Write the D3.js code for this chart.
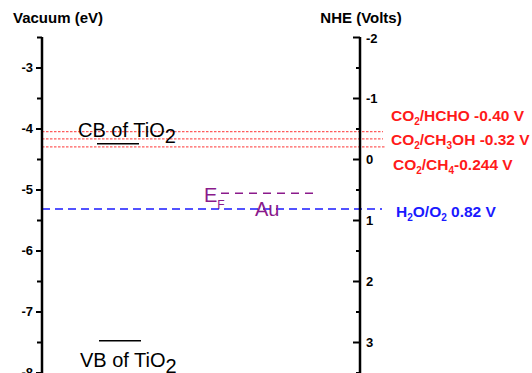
<!DOCTYPE html>
<html>
<head>
<meta charset="utf-8">
<script src="https://cdn.jsdelivr.net/npm/d3@7"></script>
<style>
  body { margin: 0; background: #fff; }
  svg { font-family: "Liberation Sans", Arial, sans-serif; }
</style>
</head>
<body>
<svg id="chart"></svg>
<script>
// vacuum scale ticks (eV) and NHE ticks (V)
let vacTicks = [-3, -4, -5, -6, -7, -8]
let nheTicks = [-2, -1, 0, 1, 2, 3]

// band levels vs vacuum (eV)
let bandNames = ["CB", "VB"]
let bandValues = [-4.25, -7.48]
let fermiAu = -5.06

// redox potentials vs NHE (V), line positions as drawn in the figure
let redoxNames = ["CO2/HCHO", "CO2/CH3OH", "CO2/CH4", "H2O/O2"]
let redoxValues = [-0.45, -0.33, -0.20, 0.82]
let redoxLabels = [
  [["CO", 0], ["2", 1], ["/HCHO -0.40 V", 0]],
  [["CO", 0], ["2", 1], ["/CH", 0], ["3", 1], ["OH -0.32 V", 0]],
  [["CO", 0], ["2", 1], ["/CH", 0], ["4", 1], ["-0.244 V", 0]],
  [["H", 0], ["2", 1], ["O/O", 0], ["2", 1], [" 0.82 V", 0]]
]

function getConfig() {
  let width = 532
  let height = 373
  let leftX = 42
  let rightX = 360
  let top = 37
  let bottom = 372.5
  let container = d3.select("#chart")
    .attr("width", width)
    .attr("height", height)
  return { width, height, leftX, rightX, top, bottom, container }
}

function getScales(config) {
  let { top, bottom } = config
  let yVac = d3.scaleLinear().domain([-2.5, -8]).range([top, bottom])
  // NHE = -4.5 - E(vacuum)
  let yNhe = d3.scaleLinear().domain([-2, 3.5]).range([top, bottom])
  return { yVac, yNhe }
}

function drawAxes(scales, config) {
  let { container, leftX, rightX } = config
  let { yVac, yNhe } = scales
  let fmt = d => String(d)   // plain hyphen minus like the original

  // left axis, minor ticks at half eV
  let left = container.append("g").attr("transform", `translate(${leftX},0)`)
  left.call(d3.axisLeft(yVac).tickValues(d3.range(-2.5, -8.01, -0.5)).tickSize(5).tickFormat(""))
  left.append("g").call(d3.axisLeft(yVac).tickValues(vacTicks).tickSize(6).tickFormat(fmt))
    .selectAll("text").attr("x", -9)
  left.selectAll(".domain").remove()
  left.append("line").attr("y1", yVac(-2.5)).attr("y2", 373).attr("stroke", "#000").attr("stroke-width", 2.5)

  // right axis, ticks pointing inward, labels outside
  let right = container.append("g").attr("transform", `translate(${rightX},0)`)
  right.call(d3.axisLeft(yNhe).tickValues(d3.range(-1.5, 3.6, 1)).tickSize(4).tickFormat(""))
  let major = right.append("g").call(d3.axisLeft(yNhe).tickValues(nheTicks).tickSize(7).tickFormat(fmt))
  major.selectAll("text").attr("x", 6).attr("text-anchor", "start")
  right.selectAll(".domain").remove()
  right.append("line").attr("y1", yNhe(-2)).attr("y2", 373).attr("stroke", "#000").attr("stroke-width", 2.5)

  container.selectAll(".tick line").attr("stroke-width", 2)
  container.selectAll(".tick text")
    .style("font-size", "13px").style("font-weight", "bold")
    .style("font-family", "Liberation Sans, Arial, sans-serif")
  major.selectAll(".tick").filter(d => d === -2).select("text").attr("dy", "0.42em")

  container.append("text").attr("x", 13).attr("y", 23)
    .style("font-size", "15px").style("font-weight", "bold").text("Vacuum (eV)")
  container.append("text").attr("x", 361).attr("y", 23).attr("text-anchor", "middle")
    .style("font-size", "15px").style("font-weight", "bold").text("NHE (Volts)")
}

function drawLevels(scales, config) {
  let { container, leftX } = config
  let { yVac, yNhe } = scales

  // redox lines
  let ends = [383, 383, 386, 382]
  redoxValues.forEach((v, i) => {
    let blue = i === 3
    container.append("line")
      .attr("x1", leftX).attr("x2", ends[i])
      .attr("y1", yNhe(v)).attr("y2", yNhe(v))
      .attr("stroke", blue ? "#1a1aff" : "#ff5c5c")
      .attr("stroke-width", blue ? 1.5 : 1.2)
      .attr("stroke-dasharray", blue ? "8,5" : "2.5,1.5")
  })

  // band edges
  let bandX = [[97, 139], [99, 141]]
  bandValues.forEach((v, i) => {
    container.append("line")
      .attr("x1", bandX[i][0]).attr("x2", bandX[i][1])
      .attr("y1", yVac(v)).attr("y2", yVac(v))
      .attr("stroke", "#000").attr("stroke-width", 1.5)
  })

  let bandText = [[78, 137], [80, 366.5]]
  bandNames.forEach((n, i) => {
    let t = container.append("text").attr("x", bandText[i][0]).attr("y", bandText[i][1])
      .style("font-size", "20px")
    t.append("tspan").text(n + " of TiO")
    t.append("tspan").attr("dy", 6).text("2")
  })

  // Au Fermi level
  container.append("line")
    .attr("x1", 221).attr("x2", 315)
    .attr("y1", yVac(fermiAu)).attr("y2", yVac(fermiAu))
    .attr("stroke", "#8b1a8b").attr("stroke-width", 1.5).attr("stroke-dasharray", "8,6")
  let ef = container.append("text").attr("x", 204).attr("y", 202).attr("fill", "#8b1a8b")
    .style("font-size", "20px")
  ef.append("tspan").text("E")
  ef.append("tspan").attr("dy", 7).style("font-size", "12px").text("F")
  container.append("text").attr("x", 255).attr("y", 216).attr("fill", "#8b1a8b")
    .style("font-size", "20px").text("Au")

  // redox labels
  let labelPos = [[391, 121], [391, 145], [393, 170], [396, 217]]
  redoxLabels.forEach((parts, i) => {
    let t = container.append("text")
      .attr("x", labelPos[i][0]).attr("y", labelPos[i][1])
      .attr("fill", i === 3 ? "#1a1aff" : "#ff1a1a")
      .style("font-size", "15.5px").style("font-weight", "bold")
    let shifted = false
    parts.forEach(p => {
      let s = t.append("tspan").text(p[0])
      if (p[1] && !shifted) { s.attr("dy", 4).style("font-size", "10px"); shifted = true }
      else if (p[1]) { s.style("font-size", "10px") }
      else if (shifted) { s.attr("dy", -4); shifted = false }
    })
  })
}

function drawChart() {
  let config = getConfig()
  let scales = getScales(config)
  drawLevels(scales, config)
  drawAxes(scales, config)
}

drawChart()
</script>
</body>
</html>
